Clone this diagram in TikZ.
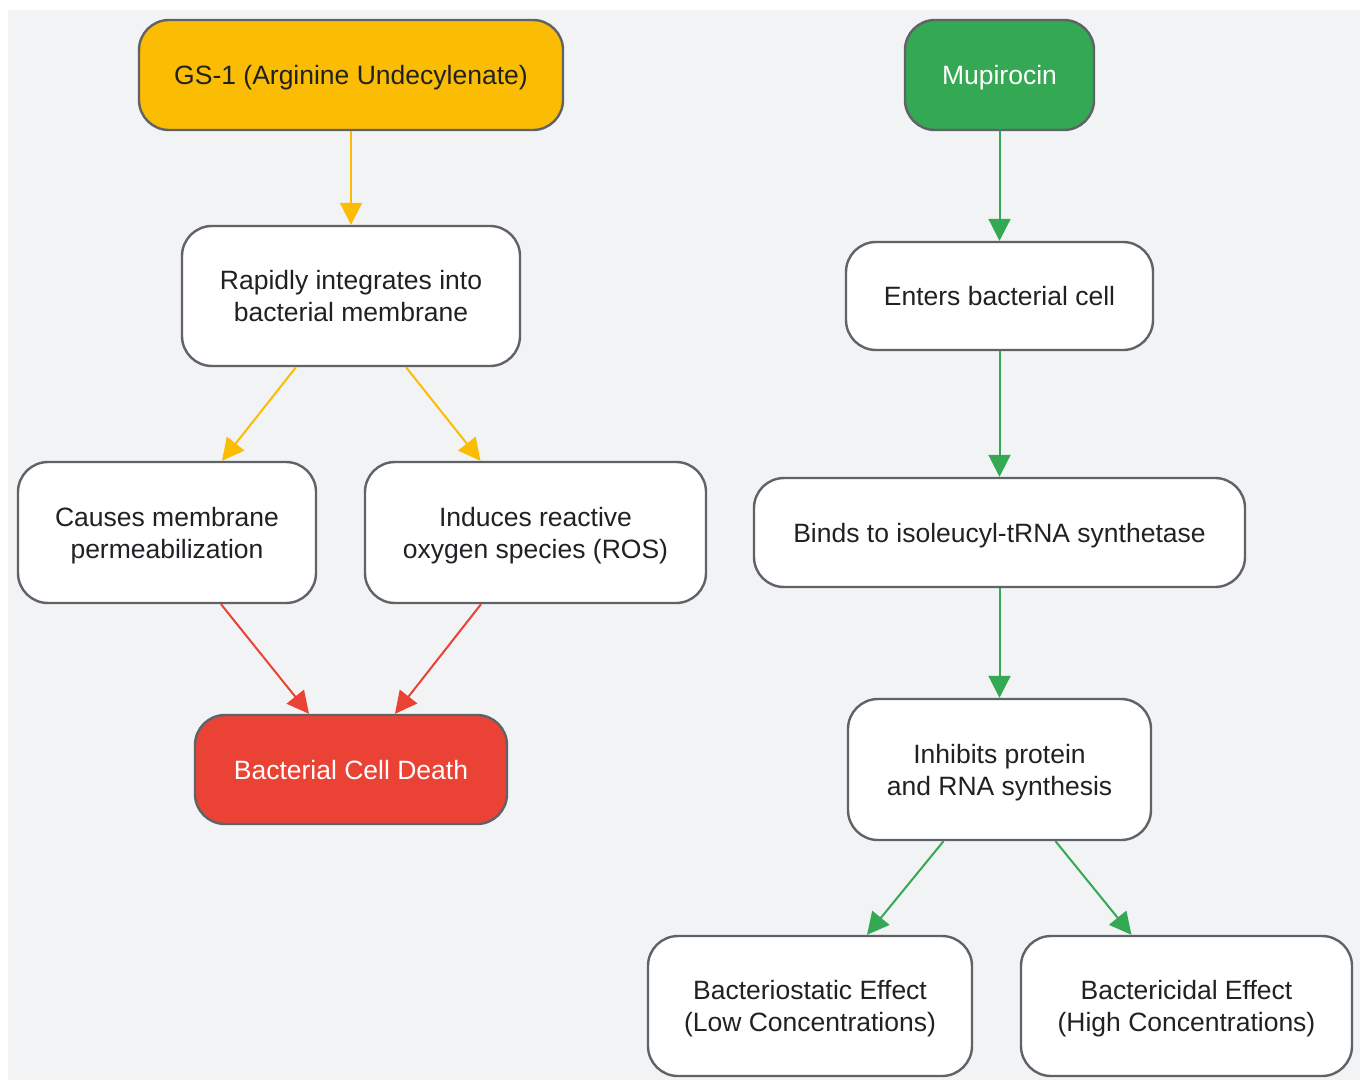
\documentclass[tikz,border=0pt]{standalone}
\usepackage{fontspec}
\setmainfont{Liberation Sans}
\usetikzlibrary{arrows.meta,calc}
\definecolor{bgc}{HTML}{F1F3F4}
\definecolor{bordc}{HTML}{5F6368}
\definecolor{txtc}{HTML}{202124}
\definecolor{yel}{HTML}{FBBC04}
\definecolor{grn}{HTML}{34A853}
\definecolor{rd}{HTML}{EA4335}
\newcommand\boxtxt[1]{\raisebox{-3.5pt}[\height][\depth]{\begin{tabular}{@{}c@{}}#1\end{tabular}}}
\tikzset{
  box/.style={draw=bordc, line width=2.4pt, rounded corners=30pt, fill=white,
    text=txtc, inner sep=0pt, font=\fontsize{26.5}{32}\selectfont},
  conn/.style={line width=2pt, -{Triangle[length=22pt,width=22pt]}},
}
\begin{document}
\begin{tikzpicture}[x=1pt,y=-1pt]
\useasboundingbox (0,0) rectangle (1360,1080);
\fill[bgc] (8,10) rectangle (1360,1080);
% left column
\node[box, fill=yel, minimum width=424pt, minimum height=110pt] (gs) at (351,75) {\boxtxt{GS-1 (Arginine Undecylenate)}};
\node[box, minimum width=338pt, minimum height=140pt] (rap) at (351,296) {\boxtxt{Rapidly integrates into\\bacterial membrane}};
\node[box, minimum width=298pt, minimum height=141pt] (cau) at (167,532.5) {\boxtxt{Causes membrane\\permeabilization}};
\node[box, minimum width=341pt, minimum height=141pt] (ind) at (535.5,532.5) {\boxtxt{Induces reactive\\oxygen species (ROS)}};
\node[box, fill=rd, text=white, minimum width=312pt, minimum height=109pt] (dth) at (351,769.5) {\boxtxt{Bacterial Cell Death}};
% right column
\node[box, fill=grn, text=white, minimum width=189pt, minimum height=110pt] (mup) at (999.5,75) {\boxtxt{Mupirocin}};
\node[box, minimum width=307pt, minimum height=108pt] (ent) at (999.5,296) {\boxtxt{Enters bacterial cell}};
\node[box, minimum width=491pt, minimum height=109pt] (bnd) at (999.5,532.5) {\boxtxt{Binds to isoleucyl-tRNA synthetase}};
\node[box, minimum width=303pt, minimum height=141pt] (inh) at (999.5,769.5) {\boxtxt{Inhibits protein\\and RNA synthesis}};
\node[box, minimum width=324pt, minimum height=140pt] (bst) at (810,1006) {\boxtxt{Bacteriostatic Effect\\(Low Concentrations)}};
\node[box, minimum width=331pt, minimum height=140pt] (bcd) at (1186.5,1006) {\boxtxt{Bactericidal Effect\\(High Concentrations)}};
% connectors
\draw[conn, yel] (gs.south) -- (rap.north);
\draw[conn, yel] ([xshift=-55pt]rap.south) -- ([xshift=55pt]cau.north);
\draw[conn, yel] ([xshift=55pt]rap.south) -- ([xshift=-55pt]ind.north);
\draw[conn, rd] ([xshift=54pt]cau.south) -- ([xshift=-42pt]dth.north);
\draw[conn, rd] ([xshift=-54.5pt]ind.south) -- ([xshift=44pt]dth.north);
\draw[conn, grn] (mup.south) -- (ent.north);
\draw[conn, grn] (ent.south) -- (bnd.north);
\draw[conn, grn] (bnd.south) -- (inh.north);
\draw[conn, grn] ([xshift=-56pt]inh.south) -- ([xshift=57pt]bst.north);
\draw[conn, grn] ([xshift=56pt]inh.south) -- ([xshift=-55pt]bcd.north);
\end{tikzpicture}
\end{document}
